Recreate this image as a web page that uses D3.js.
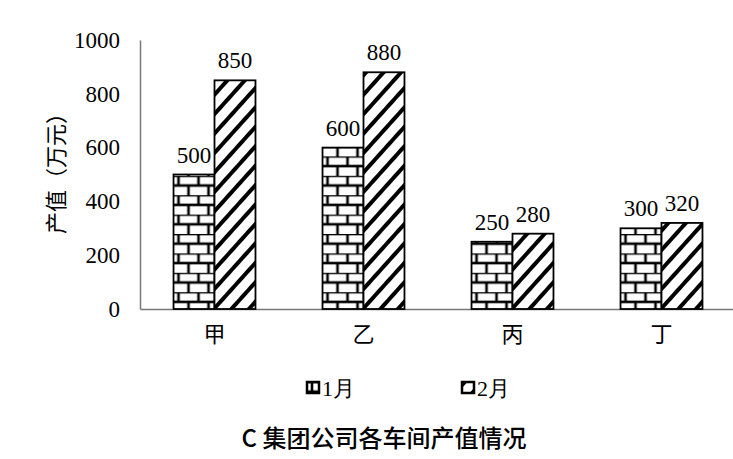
<!DOCTYPE html>
<html>
<head>
<meta charset="utf-8">
<script src="https://cdn.jsdelivr.net/npm/d3@7"></script>
<style>
  body { margin: 0; background: #fff; }
</style>
</head>
<body>
<div id="chart"></div>
<script>
// data
var categories = ["甲", "乙", "丙", "丁"];
var seriesNames = ["1月", "2月"];
var jan = [500, 600, 250, 300];
var feb = [850, 880, 280, 320];
var yTicks = [0, 200, 400, 600, 800, 1000];

var serif = "'Liberation Serif', 'Times New Roman', 'DejaVu Serif', serif";
var cjk = "'Noto Sans CJK SC', sans-serif";

var svgWidth = 733;
var svgHeight = 459;
var margin = { top: 40, left: 140 };
var height = 309 - margin.top;

var svg = d3.select("#chart").append("svg")
  .attr("width", svgWidth)
  .attr("height", svgHeight);

// fill patterns
var defs = svg.append("defs");
var brick = defs.append("pattern")
  .attr("id", "brick")
  .attr("patternUnits", "userSpaceOnUse")
  .attr("width", 20).attr("height", 19.4);
brick.append("rect").attr("width", 20).attr("height", 19.4).attr("fill", "#fff");
brick.append("g").attr("stroke", "#000").attr("stroke-width", 2.6).attr("fill", "none")
  .selectAll("path")
  .data(["M0,0H20", "M0,9.7H20", "M5,0V9.7", "M15,9.7V19.4"])
  .enter().append("path").attr("d", d => d);

var hatch = defs.append("pattern")
  .attr("id", "hatch")
  .attr("patternUnits", "userSpaceOnUse")
  .attr("width", 13).attr("height", 13)
  .attr("patternTransform", "rotate(42)");
hatch.append("rect").attr("width", 13).attr("height", 13).attr("fill", "#fff");
hatch.append("rect").attr("x", 0).attr("width", 4).attr("height", 13).attr("fill", "#000");

var chartGroup = svg.append("g")
  .attr("transform", `translate(${margin.left}, ${margin.top})`);

var x0 = d3.scaleBand().domain(categories).range([0, 596]).paddingInner(0.45).paddingOuter(0.225);
var x1 = d3.scaleBand().domain(seriesNames).range([0, x0.bandwidth()]);
var yScale = d3.scaleLinear().domain([0, 1000]).range([height, 0]);

// axes
var leftAxis = d3.axisLeft(yScale).tickValues(yTicks).tickFormat(d3.format("d")).tickSize(0).tickPadding(20);
var yAxisG = chartGroup.append("g").call(leftAxis)
  .attr("font-family", serif).attr("font-size", 23);
yAxisG.select(".domain").attr("stroke", "#777").attr("stroke-width", 1.5);
yAxisG.selectAll("text").attr("fill", "#000");

var bottomAxis = d3.axisBottom(x0).tickSize(0).tickPadding(17);
var xAxisG = chartGroup.append("g").attr("transform", `translate(0, ${height})`).call(bottomAxis)
  .attr("font-family", cjk).attr("font-size", 22);
xAxisG.select(".domain").attr("stroke", "#777").attr("stroke-width", 1.5);
xAxisG.selectAll("text").attr("fill", "#000");

// bars
var rows = categories.map((c, i) => ({ cat: c, vals: [
  { s: "1月", v: jan[i], fill: "url(#brick)" },
  { s: "2月", v: feb[i], fill: "url(#hatch)" }
] }));

var groups = chartGroup.selectAll(".grp")
  .data(rows).enter().append("g")
  .attr("transform", d => `translate(${x0(d.cat)},0)`);

groups.selectAll("rect")
  .data(d => d.vals).enter().append("rect")
  .attr("x", d => x1(d.s))
  .attr("y", d => yScale(d.v))
  .attr("width", x1.bandwidth())
  .attr("height", d => height - yScale(d.v))
  .attr("fill", d => d.fill)
  .attr("stroke", "#000")
  .attr("stroke-width", 1.8);

groups.selectAll(".lbl")
  .data(d => d.vals).enter().append("text")
  .attr("font-family", serif)
  .attr("font-size", 23)
  .attr("text-anchor", "middle")
  .attr("x", d => x1(d.s) + x1.bandwidth() / 2)
  .attr("y", d => yScale(d.v) - 12)
  .text(d => d.v);

// y title
svg.append("text")
  .attr("font-family", cjk)
  .attr("font-size", 22)
  .attr("text-anchor", "middle")
  .attr("transform", "translate(64,168) rotate(-90)")
  .text("产值（万元）");

// legend
var legend = svg.append("g");
var legendX = [307, 462];
seriesNames.forEach(function(s, i) {
  var g = legend.append("g").attr("transform", `translate(${legendX[i]},382)`);
  g.append("rect").attr("width", 12).attr("height", 11)
    .attr("fill", i === 0 ? "url(#brick)" : "url(#hatch)")
    .attr("stroke", "#000").attr("stroke-width", 2.5);
  g.append("text").attr("font-family", serif).attr("font-size", 22)
    .attr("x", 15).attr("y", 14).text(s);
});

// title
svg.append("text")
  .attr("font-family", cjk)
  .attr("font-size", 24)
  .attr("font-weight", 500)
  .attr("text-anchor", "middle")
  .attr("x", 384)
  .attr("y", 447)
  .text("C 集团公司各车间产值情况");
</script>
</body>
</html>
